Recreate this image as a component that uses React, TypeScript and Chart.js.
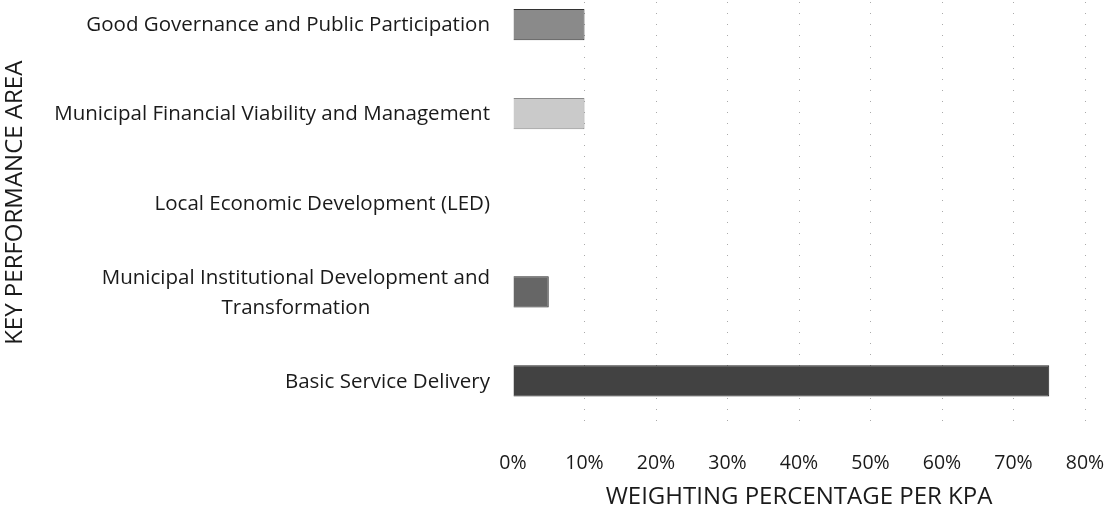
import React, { useEffect, useRef } from "react";
import { Chart, registerables } from "chart.js";

Chart.register(...registerables);

const categories: (string | string[])[] = [
  "Good Governance and Public Participation",
  "Municipal Financial Viability and Management",
  "Local Economic Development (LED)",
  ["Municipal Institutional Development and", "Transformation"],
  "Basic Service Delivery",
];
const weights = [0.1, 0.1, 0, 0.05, 0.75];
const barColors = ["#8a8a8a", "#cacaca", "#8a8a8a", "#666666", "#424242"];
const barBorders = ["#333333", "#8a8a8a", "#333333", "#2a2a2a", "#262626"];
const xTicks = [0, 0.1, 0.2, 0.3, 0.4, 0.5, 0.6, 0.7, 0.8];
const xTitle = "WEIGHTING PERCENTAGE PER KPA";
const yTitle = "KEY PERFORMANCE AREA";

const FONT = "'Open Sans', 'Noto Sans', sans-serif";
const TEXT = "#1a1a1a";

const labelPlugin = {
  id: "centeredLabels",
  afterDraw(chart: any) {
    const scale = chart.scales.y;
    const ctx = chart.ctx;
    ctx.save();
    ctx.font = `20.5px ${FONT}`;
    ctx.fillStyle = TEXT;
    ctx.textAlign = "center";
    ctx.textBaseline = "middle";
    const lineH = 30;
    categories.forEach((lbl, i) => {
      const lines = Array.isArray(lbl) ? lbl : [lbl];
      const w = Math.max(...lines.map((l) => ctx.measureText(l).width));
      const cx = scale.right - 23 - w / 2;
      const y = scale.getPixelForValue(i) + 1;
      lines.forEach((ln, j) => {
        ctx.fillText(ln, cx, y + (j - (lines.length - 1) / 2) * lineH);
      });
    });
    ctx.restore();
  },
};

export default function App() {
  const ref = useRef<HTMLCanvasElement>(null);
  useEffect(() => {
    if (!ref.current) return;
    const chart = new Chart(ref.current, {
      type: "bar",
      data: {
        labels: categories.map((c) => (Array.isArray(c) ? c.join(" ") : c)),
        datasets: [
          {
            data: weights,
            backgroundColor: barColors,
            borderColor: barBorders,
            borderWidth: 1,
            barPercentage: 0.35,
            categoryPercentage: 1,
          },
        ],
      },
      options: {
        indexAxis: "y",
        animation: false,
        responsive: true,
        maintainAspectRatio: false,
        layout: { padding: { top: 0, right: 28, bottom: 0, left: 0 } },
        plugins: { legend: { display: false }, tooltip: { enabled: false } },
        scales: {
          x: {
            min: 0,
            max: 0.8,
            afterBuildTicks: (s: any) => {
              s.ticks = xTicks.map((v) => ({ value: v }));
            },
            afterFit: (s: any) => {
              s.height = 86.5;
            },
            ticks: {
              padding: 2,
              color: TEXT,
              font: { family: FONT, size: 19.5 },
              maxRotation: 0,
              callback: (v: any) => `${Math.round(Number(v) * 100)}%`,
            },
            grid: {
              drawTicks: true,
              tickLength: 24,
              tickColor: "rgba(0,0,0,0)",
              color: (c: any) => (c.tick && c.tick.value === 0 ? "rgba(0,0,0,0)" : "#aaaaaa"),
              lineWidth: 1,
            },
            border: { display: false, dash: [1, 10] },
            title: {
              display: true,
              text: xTitle,
              color: TEXT,
              font: { family: FONT, size: 24 },
              padding: { top: 0, bottom: 0 },
            },
          },
          y: {
            type: "category",
            offset: true,
            afterFit: (s: any) => {
              s.width = 513;
            },
            ticks: { display: false },
            grid: { display: false },
            border: { display: false },
            title: {
              display: true,
              text: yTitle,
              color: TEXT,
              font: { family: FONT, size: 24 },
              padding: { top: 1, bottom: 0 },
            },
          },
        },
      },
      plugins: [labelPlugin],
    });
    return () => chart.destroy();
  }, []);
  return (
    <div style={{ position: "absolute", left: 0, top: -20, width: 1113, height: 532 }}>
      <canvas ref={ref} />
    </div>
  );
}
